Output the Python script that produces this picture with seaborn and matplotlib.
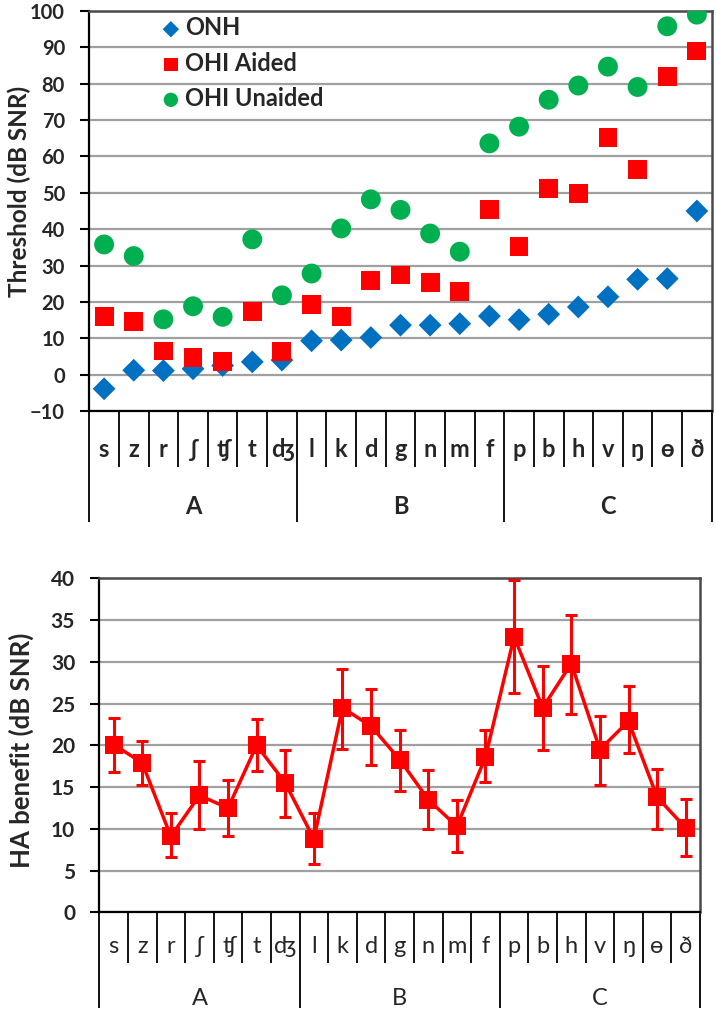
import numpy as np
import pandas as pd
import matplotlib
matplotlib.use("Agg")
import matplotlib.pyplot as plt
import seaborn as sns
from matplotlib.transforms import blended_transform_factory

# ---------------- data ----------------
phonemes = ['s', 'z', 'r', 'ʃ', 'ʧ', 't', 'ʤ', 'l', 'k', 'd', 'g', 'n', 'm', 'f',
            'p', 'b', 'h', 'v', 'ŋ', 'ɵ', 'ð']
groups = ['A', 'B', 'C']
group_sizes = [7, 7, 7]

onh = [-3.9, 1.2, 1.1, 1.6, 2.5, 3.5, 4.0, 9.3, 9.5, 10.2, 13.6, 13.6, 14.0, 16.1,
       15.1, 16.6, 18.6, 21.4, 26.2, 26.4, 45.0]
ohi_aided = [15.9, 14.7, 6.5, 4.6, 3.5, 17.3, 6.4, 19.3, 15.9, 26.0, 27.4, 25.3, 22.8,
             45.3, 35.3, 51.2, 49.9, 65.3, 56.3, 82.0, 89.0]
ohi_unaided = [35.8, 32.6, 15.2, 18.8, 15.9, 37.2, 21.8, 27.8, 40.2, 48.2, 45.3, 38.8,
               33.8, 63.6, 68.2, 75.6, 79.5, 84.7, 79.1, 95.8, 99.0]

ha_benefit = [20.1, 17.9, 9.1, 14.0, 12.5, 20.0, 15.5, 8.8, 24.5, 22.3, 18.3, 13.5, 10.3,
              18.6, 33.0, 24.5, 29.8, 19.5, 22.9, 13.8, 10.1]
ha_benefit_low = [16.8, 15.2, 6.6, 10.0, 9.1, 16.9, 11.4, 5.8, 19.6, 17.7, 14.5, 10.0, 7.2,
                  15.6, 26.3, 19.4, 23.8, 15.3, 19.1, 10.0, 6.8]
ha_benefit_high = [23.3, 20.5, 11.9, 18.1, 15.8, 23.1, 19.4, 11.9, 29.1, 26.7, 21.8, 17.1,
                   13.4, 21.8, 39.8, 29.5, 35.6, 23.5, 27.1, 17.2, 13.6]

top_yticks = list(range(-10, 101, 10))
bottom_yticks = list(range(0, 41, 5))

# ---------------- style ----------------
sns.set_theme(style="white")
plt.rcParams['font.family'] = ['Lato', 'DejaVu Sans']
TXT = '#262626'
GRID = '#a0a0a0'
BLUE, RED, GREEN = '#0070C0', '#FF0000', '#00B050'

n = len(phonemes)
pos = np.arange(n)
df = pd.DataFrame({'pos': pos, 'phoneme': phonemes, 'onh': onh, 'aided': ohi_aided,
                   'unaided': ohi_unaided, 'benefit': ha_benefit,
                   'lo': ha_benefit_low, 'hi': ha_benefit_high})

fig = plt.figure(figsize=(7.16, 10.09), dpi=100)
ax1 = fig.add_axes([0.1247, 0.5927, 0.8693, 0.3964])
ax2 = fig.add_axes([0.1387, 0.0958, 0.8390, 0.3310])


def style_axes(ax, yticks, ylabel, label_size, tick_size):
    ax.set_xlim(-0.5, n - 0.5)
    ax.set_ylim(yticks[0], yticks[-1])
    ax.set_yticks(yticks)
    ax.set_xticks([])
    ax.yaxis.grid(True, color=GRID, lw=1.6)
    ax.set_axisbelow(True)
    for side in ['top', 'right']:
        ax.spines[side].set_visible(True)
        ax.spines[side].set_color('#4a4a4a')
        ax.spines[side].set_linewidth(1.8)
    for side in ['left', 'bottom']:
        ax.spines[side].set_visible(True)
        ax.spines[side].set_color('black')
        ax.spines[side].set_linewidth(1.6)
    ax.tick_params(axis='y', which='major', direction='out', length=6.5, width=1.5,
                   color='black', labelsize=tick_size, labelcolor=TXT, left=True, pad=11)
    for lab in ax.get_yticklabels():
        lab.set_fontweight('bold')
    ax.set_ylabel(ylabel, fontsize=label_size, fontweight='bold', color=TXT)
    ax.set_xlabel('')


def category_axis(ax, sep_depth, label_y, group_y, group_depth, label_kw, group_kw):
    trans = blended_transform_factory(ax.transData, ax.transAxes)
    bounds = np.cumsum([0] + group_sizes)
    for b in range(n + 1):
        depth = group_depth if b in bounds else sep_depth
        ax.plot([b - 0.5, b - 0.5], [0, -depth], transform=trans, clip_on=False,
                color='black', lw=1.3, solid_capstyle='butt')
    for i, p in enumerate(phonemes):
        ax.text(i, label_y, p, transform=trans, ha='center', va='center',
                color=TXT, **label_kw)
    for g, start, size in zip(groups, bounds[:-1], group_sizes):
        ax.text(start + (size - 1) / 2, group_y, g, transform=trans, ha='center',
                va='center', color=TXT, **group_kw)


# ---------------- top chart ----------------
sns.scatterplot(data=df, x='pos', y='onh', marker='D', s=135, color=BLUE,
                edgecolor='none', label='ONH', ax=ax1, zorder=3)
sns.scatterplot(data=df, x='pos', y='aided', marker='s', s=185, color=RED,
                edgecolor='none', label='OHI Aided', ax=ax1, zorder=4)
sns.scatterplot(data=df, x='pos', y='unaided', marker='o', s=205, color=GREEN,
                edgecolor='none', label='OHI Unaided', ax=ax1, zorder=5)
style_axes(ax1, top_yticks, 'Threshold (dB SNR)', 17.5, 14.5)
ax1.yaxis.set_label_coords(-0.094, 0.55)
leg = ax1.legend(loc='upper left', bbox_to_anchor=(0.1007, 1.01), frameon=False,
                 prop={'weight': 'bold', 'size': 17}, labelspacing=0.52,
                 borderaxespad=0.0, handletextpad=0.2, handlelength=0.8,
                 markerscale=0.72)
for t in leg.get_texts():
    t.set_color(TXT)
category_axis(ax1, 0.141, -0.0975, -0.239, 0.2775,
              dict(fontsize=17, fontweight='bold'), dict(fontsize=17, fontweight='bold'))

# ---------------- bottom chart ----------------
ax2.errorbar(df['pos'], df['benefit'],
             yerr=[df['benefit'] - df['lo'], df['hi'] - df['benefit']],
             fmt='none', ecolor=RED, elinewidth=2.2, capsize=4.2, capthick=2.2, zorder=3)
sns.lineplot(data=df, x='pos', y='benefit', color=RED, lw=2.5, marker='s',
             markersize=13.5, markeredgewidth=0, sort=False, ax=ax2, zorder=4)
style_axes(ax2, bottom_yticks, 'HA benefit (dB SNR)', 18.5, 15)
ax2.yaxis.set_label_coords(-0.109, 0.486)
category_axis(ax2, 0.151, -0.103, -0.2566, 0.2865,
              dict(fontsize=17), dict(fontsize=17))

fig.savefig('out.png', dpi=100)
